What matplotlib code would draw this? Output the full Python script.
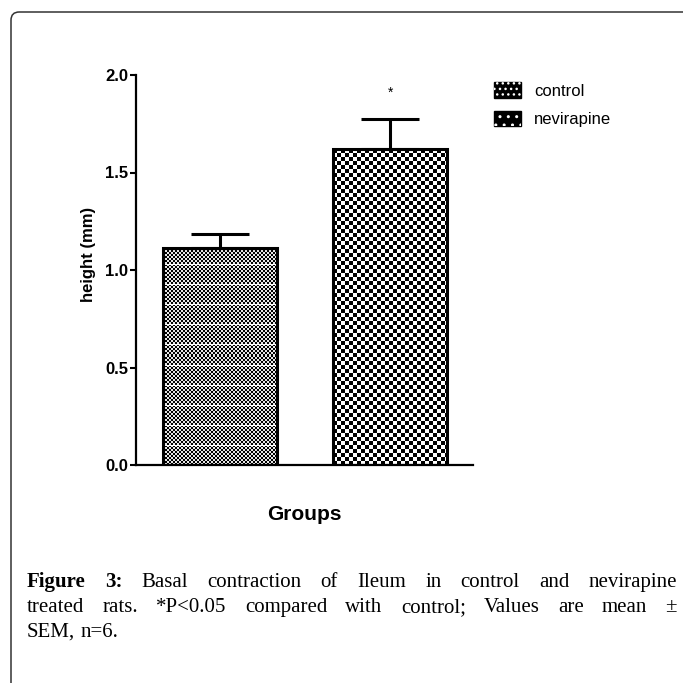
import numpy as np
import matplotlib
matplotlib.use("Agg")
import matplotlib.pyplot as plt
from matplotlib.patches import Patch, FancyBboxPatch
from matplotlib.legend_handler import HandlerTuple

# data
groups = ["control", "nevirapine"]
means = [1.115, 1.618]
sems = [0.07, 0.155]
star_y = 1.91

caption_1 = [("Figure", "bold"), ("3:", "bold"), ("Basal", "normal"), ("contraction", "normal"),
             ("of", "normal"), ("Ileum", "normal"), ("in", "normal"), ("control", "normal"),
             ("and", "normal"), ("nevirapine", "normal")]
caption_2 = "treated rats. *P<0.05 compared with control; Values are mean \u00b1"
caption_3 = "SEM, n=6."

W = H = 683
fig = plt.figure(figsize=(6.83, 6.83), dpi=100)
sans = "Liberation Sans"
serif = "Liberation Serif"

# outer frame with rounded corner
frame = FancyBboxPatch((11 / W, -30 / H), 720 / W, (671 + 30) / H,
                       boxstyle="round,pad=0,rounding_size=0.012",
                       transform=fig.transFigure, fill=False, lw=1.1, ec="#333333")
fig.patches.append(frame)

ax = fig.add_axes([136 / W, (H - 465) / H, 337 / W, 390 / H])
x = np.arange(len(groups))
bw = 0.676
bars = ax.bar(x, means, width=bw, facecolor="none", edgecolor="black", lw=2.2, zorder=3)
ax.errorbar(x, means, yerr=[np.zeros(len(sems)), sems], fmt="none", ecolor="black",
            elinewidth=2.2, capsize=21, capthick=2.2, zorder=2.5)
ax.set_xlim(-0.494, 1.488)
ax.set_ylim(0, 2.0)


def texture(h_px, w_px, kind):
    yy, xx = np.mgrid[0:h_px, 0:w_px]
    if kind == "fine":
        img = ((yy // 2 + xx // 2) % 2).astype(float) * 0.9
        img[(yy % 20) == 19] = 1.0
    else:
        img = ((yy // 4 + xx // 4) % 2).astype(float)
    return img


px_x = 337 / (1.488 + 0.494)
px_y = 390 / 2.0
for b, kind in zip(bars, ["fine", "coarse"]):
    x0, w, h = b.get_x(), b.get_width(), b.get_height()
    img = texture(int(round(h * px_y)), int(round(w * px_x)), kind)
    im = ax.imshow(img, cmap="gray", vmin=0, vmax=1, origin="lower",
                   extent=(x0, x0 + w, 0, h), interpolation="nearest", aspect="auto", zorder=2)
    im.set_clip_path(b)

ax.text(x[1], star_y, "*", ha="center", va="center", fontsize=10, family=sans)

for s in ["top", "right"]:
    ax.spines[s].set_visible(False)
for s in ["left", "bottom"]:
    ax.spines[s].set_linewidth(1.6)
ax.set_xticks([])
ax.set_yticks([0, 0.5, 1.0, 1.5, 2.0])
ax.set_yticklabels(["0.0", "0.5", "1.0", "1.5", "2.0"])
ax.tick_params(axis="y", length=4.3, width=1.5, pad=1.5)
for t in ax.get_yticklabels():
    t.set_fontfamily(sans)
    t.set_fontweight("bold")
    t.set_fontsize(12)

ax.set_ylabel("height (mm)", fontsize=12, fontweight="bold", family=sans)
ax.yaxis.label.set_va("center")
ax.yaxis.set_label_coords((88 - 136) / 337, (465 - 254) / 390)
ax.set_xlabel("Groups", fontsize=15, fontweight="bold", family=sans)
ax.xaxis.label.set_va("center")
ax.xaxis.set_label_coords(0.5, -(515 - 465) / 390)

handles = [
    (Patch(facecolor="black", edgecolor="black"),
     Patch(facecolor="none", edgecolor="white", hatch="...", lw=0)),
    (Patch(facecolor="black", edgecolor="black"),
     Patch(facecolor="none", edgecolor="white", hatch="..", lw=0)),
]
fig.legend(handles, groups, handler_map={tuple: HandlerTuple(ndivide=1, pad=0)},
           loc="upper left", bbox_to_anchor=(494 / W, 1 - 82 / H),
           bbox_transform=fig.transFigure, frameon=False, borderpad=0, borderaxespad=0,
           handlelength=1.62, handleheight=1.08, handletextpad=0.78, labelspacing=0.72,
           prop={"family": sans, "size": 12})

# justified caption
renderer = fig.canvas.get_renderer()
L, R = 27, 677
fs = 15


def width_of(s, weight):
    t = fig.text(0, 0, s, fontsize=fs, family=serif, fontweight=weight)
    w = t.get_window_extent(renderer).width
    t.remove()
    return w


def put_line(words, base_y, justify=True):
    widths = [width_of(s, wt) for s, wt in words]
    if justify:
        gap = (R - L - sum(widths)) / (len(words) - 1)
    else:
        gap = width_of("n n", "normal") - width_of("nn", "normal")
    xpos = L
    for (s, wt), w in zip(words, widths):
        fig.text(xpos / W, 1 - base_y / H, s, fontsize=fs, family=serif, fontweight=wt,
                 ha="left", va="baseline")
        xpos += w + gap


put_line(caption_1, 587)
put_line([(s, "normal") for s in caption_2.split()], 612)
put_line([(s, "normal") for s in caption_3.split()], 637, justify=False)

fig.savefig("out.png", dpi=100)
